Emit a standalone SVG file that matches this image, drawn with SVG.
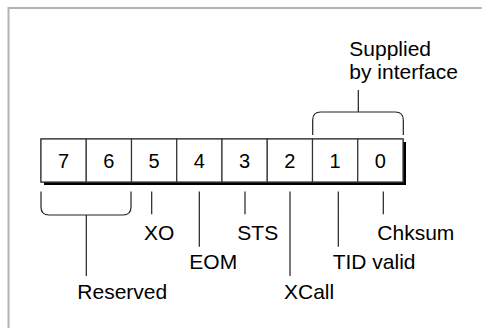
<svg xmlns="http://www.w3.org/2000/svg" width="482" height="328" viewBox="0 0 482 328">
<style>
.t{font-family:"Liberation Sans",Arial,sans-serif;font-size:21px;fill:#000}
.d{font-family:"Liberation Sans",Arial,sans-serif;font-size:20px;fill:#000;text-anchor:middle}
.ln{fill:none;stroke:#222;stroke-width:1.2}
.cell{fill:#fff;stroke:#333;stroke-width:1.2}
</style>
<rect width="482" height="328" fill="#fff"/>
<path d="M8.5 330 V8 H490" fill="none" stroke="#b4b4b4" stroke-width="2"/>
<g id="register">
<rect x="44" y="142" width="362" height="43" fill="#000"/>
<rect x="41" y="139" width="362" height="43" class="cell"/>
</g>
<g id="bit7"><rect x="41" y="139" width="45.25" height="43" class="cell"/><text x="63.6" y="168.3" class="d">7</text></g>
<g id="bit6"><rect x="86.25" y="139" width="45.25" height="43" class="cell"/><text x="108.9" y="168.3" class="d">6</text></g>
<g id="bit5"><rect x="131.5" y="139" width="45.25" height="43" class="cell"/><text x="154.1" y="168.3" class="d">5</text></g>
<g id="bit4"><rect x="176.75" y="139" width="45.25" height="43" class="cell"/><text x="199.4" y="168.3" class="d">4</text></g>
<g id="bit3"><rect x="222" y="139" width="45.25" height="43" class="cell"/><text x="244.6" y="168.3" class="d">3</text></g>
<g id="bit2"><rect x="267.25" y="139" width="45.25" height="43" class="cell"/><text x="289.9" y="168.3" class="d">2</text></g>
<g id="bit1"><rect x="312.5" y="139" width="45.25" height="43" class="cell"/><text x="335.1" y="168.3" class="d">1</text></g>
<g id="bit0"><rect x="357.75" y="139" width="45.25" height="43" class="cell"/><text x="380.4" y="168.3" class="d">0</text></g>
<g id="connectors">
<path class="ln" d="M41 191.5 V207 Q41 215 49 215 H123 Q131 215 131 207 V191.5 M86.3 215 V276"/>
<path class="ln" d="M312.7 135 V120 Q312.7 112 320.7 112 H395.3 Q403.3 112 403.3 120 V135 M358.3 112 V90"/>
<path class="ln" d="M151.7 191.5 V214.3 M199.3 191.5 V246.7 M245 191.5 V214.3 M290 191.5 V276 M338.3 191.5 V246.7 M383.3 191.5 V214.3"/>
</g>
<g id="labels">
<text x="349.3" y="56" class="t">Supplied</text>
<text x="349.3" y="79" class="t">by interface</text>
<text x="144" y="240" class="t">XO</text>
<text x="237.3" y="240" class="t">STS</text>
<text x="377.3" y="240" class="t">Chksum</text>
<text x="189.3" y="268.7" class="t">EOM</text>
<text x="332.7" y="268.7" class="t">TID valid</text>
<text x="77.3" y="299" class="t">Reserved</text>
<text x="284" y="299" class="t">XCall</text>
</g>
</svg>
